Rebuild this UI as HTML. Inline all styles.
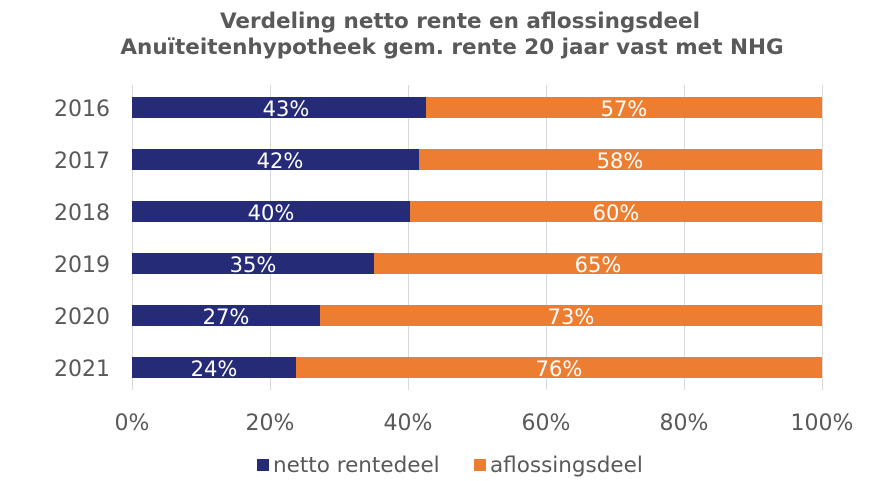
<!DOCTYPE html>
<html><head><meta charset="utf-8"><style>
html,body{margin:0;padding:0;background:#fff;}
svg{display:block;font-family:"DejaVu Sans","Liberation Sans",sans-serif;}
</style></head><body>
<svg width="882" height="481" viewBox="0 0 882 481" xmlns="http://www.w3.org/2000/svg">
<rect width="882" height="481" fill="#fff"/>
<g font-weight="bold" font-size="21.5" fill="#595959" text-anchor="middle">
<text x="460" y="28">Verdeling netto rente en aflossingsdeel</text>
<text x="452" y="54">Anuïteitenhypotheek gem. rente 20 jaar vast met NHG</text>
</g>
<g stroke="#d9d9d9" stroke-width="1">
<line x1="132.5" y1="85" x2="132.5" y2="390"/>
<line x1="270.5" y1="85" x2="270.5" y2="390"/>
<line x1="408.5" y1="85" x2="408.5" y2="390"/>
<line x1="546.5" y1="85" x2="546.5" y2="390"/>
<line x1="684.5" y1="85" x2="684.5" y2="390"/>
<line x1="822.5" y1="85" x2="822.5" y2="390"/>
</g>
<g>
<rect x="132" y="97" width="294" height="21" fill="#262B78"/><rect x="426" y="97" width="396" height="21" fill="#ED7D31"/>
<rect x="132" y="149" width="287" height="21" fill="#262B78"/><rect x="419" y="149" width="403" height="21" fill="#ED7D31"/>
<rect x="132" y="201" width="278" height="21" fill="#262B78"/><rect x="410" y="201" width="412" height="21" fill="#ED7D31"/>
<rect x="132" y="253" width="242" height="21" fill="#262B78"/><rect x="374" y="253" width="448" height="21" fill="#ED7D31"/>
<rect x="132" y="305" width="188" height="21" fill="#262B78"/><rect x="320" y="305" width="502" height="21" fill="#ED7D31"/>
<rect x="132" y="357" width="164" height="21" fill="#262B78"/><rect x="296" y="357" width="526" height="21" fill="#ED7D31"/>
</g>
<g font-size="21" fill="#fff" text-anchor="middle">
<text x="286" y="116">43%</text><text x="624" y="116">57%</text>
<text x="280" y="168">42%</text><text x="620" y="168">58%</text>
<text x="271" y="220">40%</text><text x="616" y="220">60%</text>
<text x="253" y="272">35%</text><text x="598" y="272">65%</text>
<text x="226" y="324">27%</text><text x="571" y="324">73%</text>
<text x="214" y="376">24%</text><text x="559" y="376">76%</text>
</g>
<g font-size="22" fill="#595959" text-anchor="end">
<text x="110" y="116">2016</text><text x="110" y="168">2017</text><text x="110" y="220">2018</text>
<text x="110" y="272">2019</text><text x="110" y="324">2020</text><text x="110" y="376">2021</text>
</g>
<g font-size="22" fill="#595959" text-anchor="middle">
<text x="132" y="430">0%</text><text x="270" y="430">20%</text><text x="408" y="430">40%</text>
<text x="546" y="430">60%</text><text x="684" y="430">80%</text><text x="822" y="430">100%</text>
</g>
<rect x="257" y="459" width="12" height="12" fill="#262B78"/>
<text x="273" y="472" font-size="21.5" fill="#595959">netto rentedeel</text>
<rect x="474" y="459" width="12" height="12" fill="#ED7D31"/>
<text x="490" y="472" font-size="21.5" fill="#595959">aflossingsdeel</text>
</svg>
</body></html>
